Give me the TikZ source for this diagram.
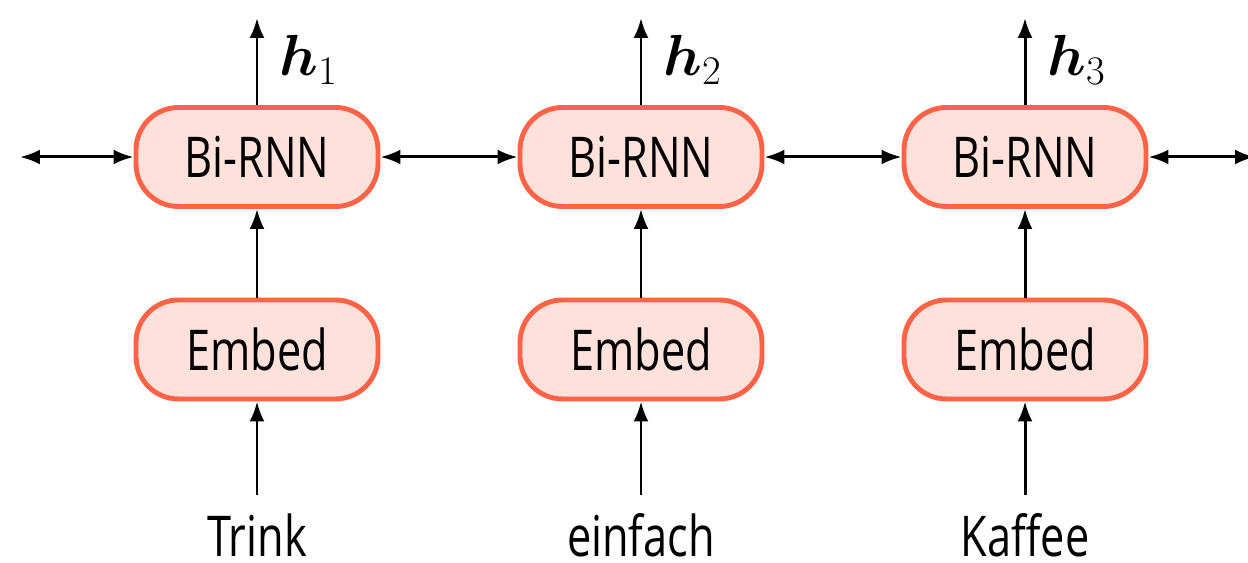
\documentclass[tikz,border=0pt]{standalone}
\usepackage{fix-cm}
\usepackage{amsmath,amssymb,bm}
\usepackage{fontspec}
\setmainfont{Open Sans}[FakeStretch=0.77]
\definecolor{cellline}{RGB}{255,99,71}
\definecolor{cellfill}{RGB}{253,225,218}
\usetikzlibrary{arrows.meta}

\tikzset{
  cell/.style={draw=cellline,fill=cellfill,line width=2.8pt,rounded corners=0.85cm,
    minimum width=4.84cm,minimum height=1.98cm,font=\fontsize{32}{36}\selectfont},
  word/.style={anchor=base,font=\fontsize{32}{36}\selectfont,text height=35pt,
    text depth=0pt,inner ysep=0pt},
  flow/.style={line width=1.7pt,-{Latex[length=0.4cm,width=0.3cm]}},
  both/.style={line width=1.7pt,{Latex[length=0.4cm,width=0.3cm]}-{Latex[length=0.4cm,width=0.3cm]}},
  hlabel/.style={font=\fontsize{33}{36}\selectfont,right,inner sep=0pt,xshift=0.42cm,yshift=0.03cm}
}

\begin{document}
\begin{tikzpicture}
  \useasboundingbox (0,0) rectangle (24.96,11.26);
  % three time steps: word -> Embed -> Bi-RNN -> h
  \node[cell] (b1) at (5.14,8.12) {Bi-RNN};
  \node[cell] (b2) at (12.82,8.12) {Bi-RNN};
  \node[cell] (b3) at (20.50,8.12) {Bi-RNN};
  \node[cell] (e1) at (5.14,4.27) {Embed};
  \node[cell] (e2) at (12.82,4.27) {Embed};
  \node[cell] (e3) at (20.50,4.27) {Embed};
  \node[word] (w1) at (5.14,0.13) {Trink};
  \node[word] (w2) at (12.82,0.13) {einfach};
  \node[word] (w3) at (20.50,0.13) {Kaffee};

  \coordinate (o1) at (5.14,10.9);
  \coordinate (o2) at (12.82,10.9);
  \coordinate (o3) at (20.50,10.9);
  \coordinate (lend) at (0.4,8.12);
  \coordinate (rend) at (25.1,8.12);

  \draw[flow] (b1.north) -- (o1) node[hlabel,midway] (h1) {$\bm{h}_1$};
  \draw[flow] (b2.north) -- (o2) node[hlabel,midway] (h2) {$\bm{h}_2$};
  \draw[flow] (b3.north) -- (o3) node[hlabel,midway] (h3) {$\bm{h}_3$};

  \foreach \i in {1,2,3} {
    \draw[flow] (e\i.north) -- (b\i.south);
    \draw[flow] (w\i.north) -- (e\i.south);
  }

  \draw[both] (lend) -- (b1.west);
  \draw[both] (b1.east) -- (b2.west);
  \draw[both] (b2.east) -- (b3.west);
  \draw[both] (b3.east) -- (rend);
\end{tikzpicture}
\end{document}
